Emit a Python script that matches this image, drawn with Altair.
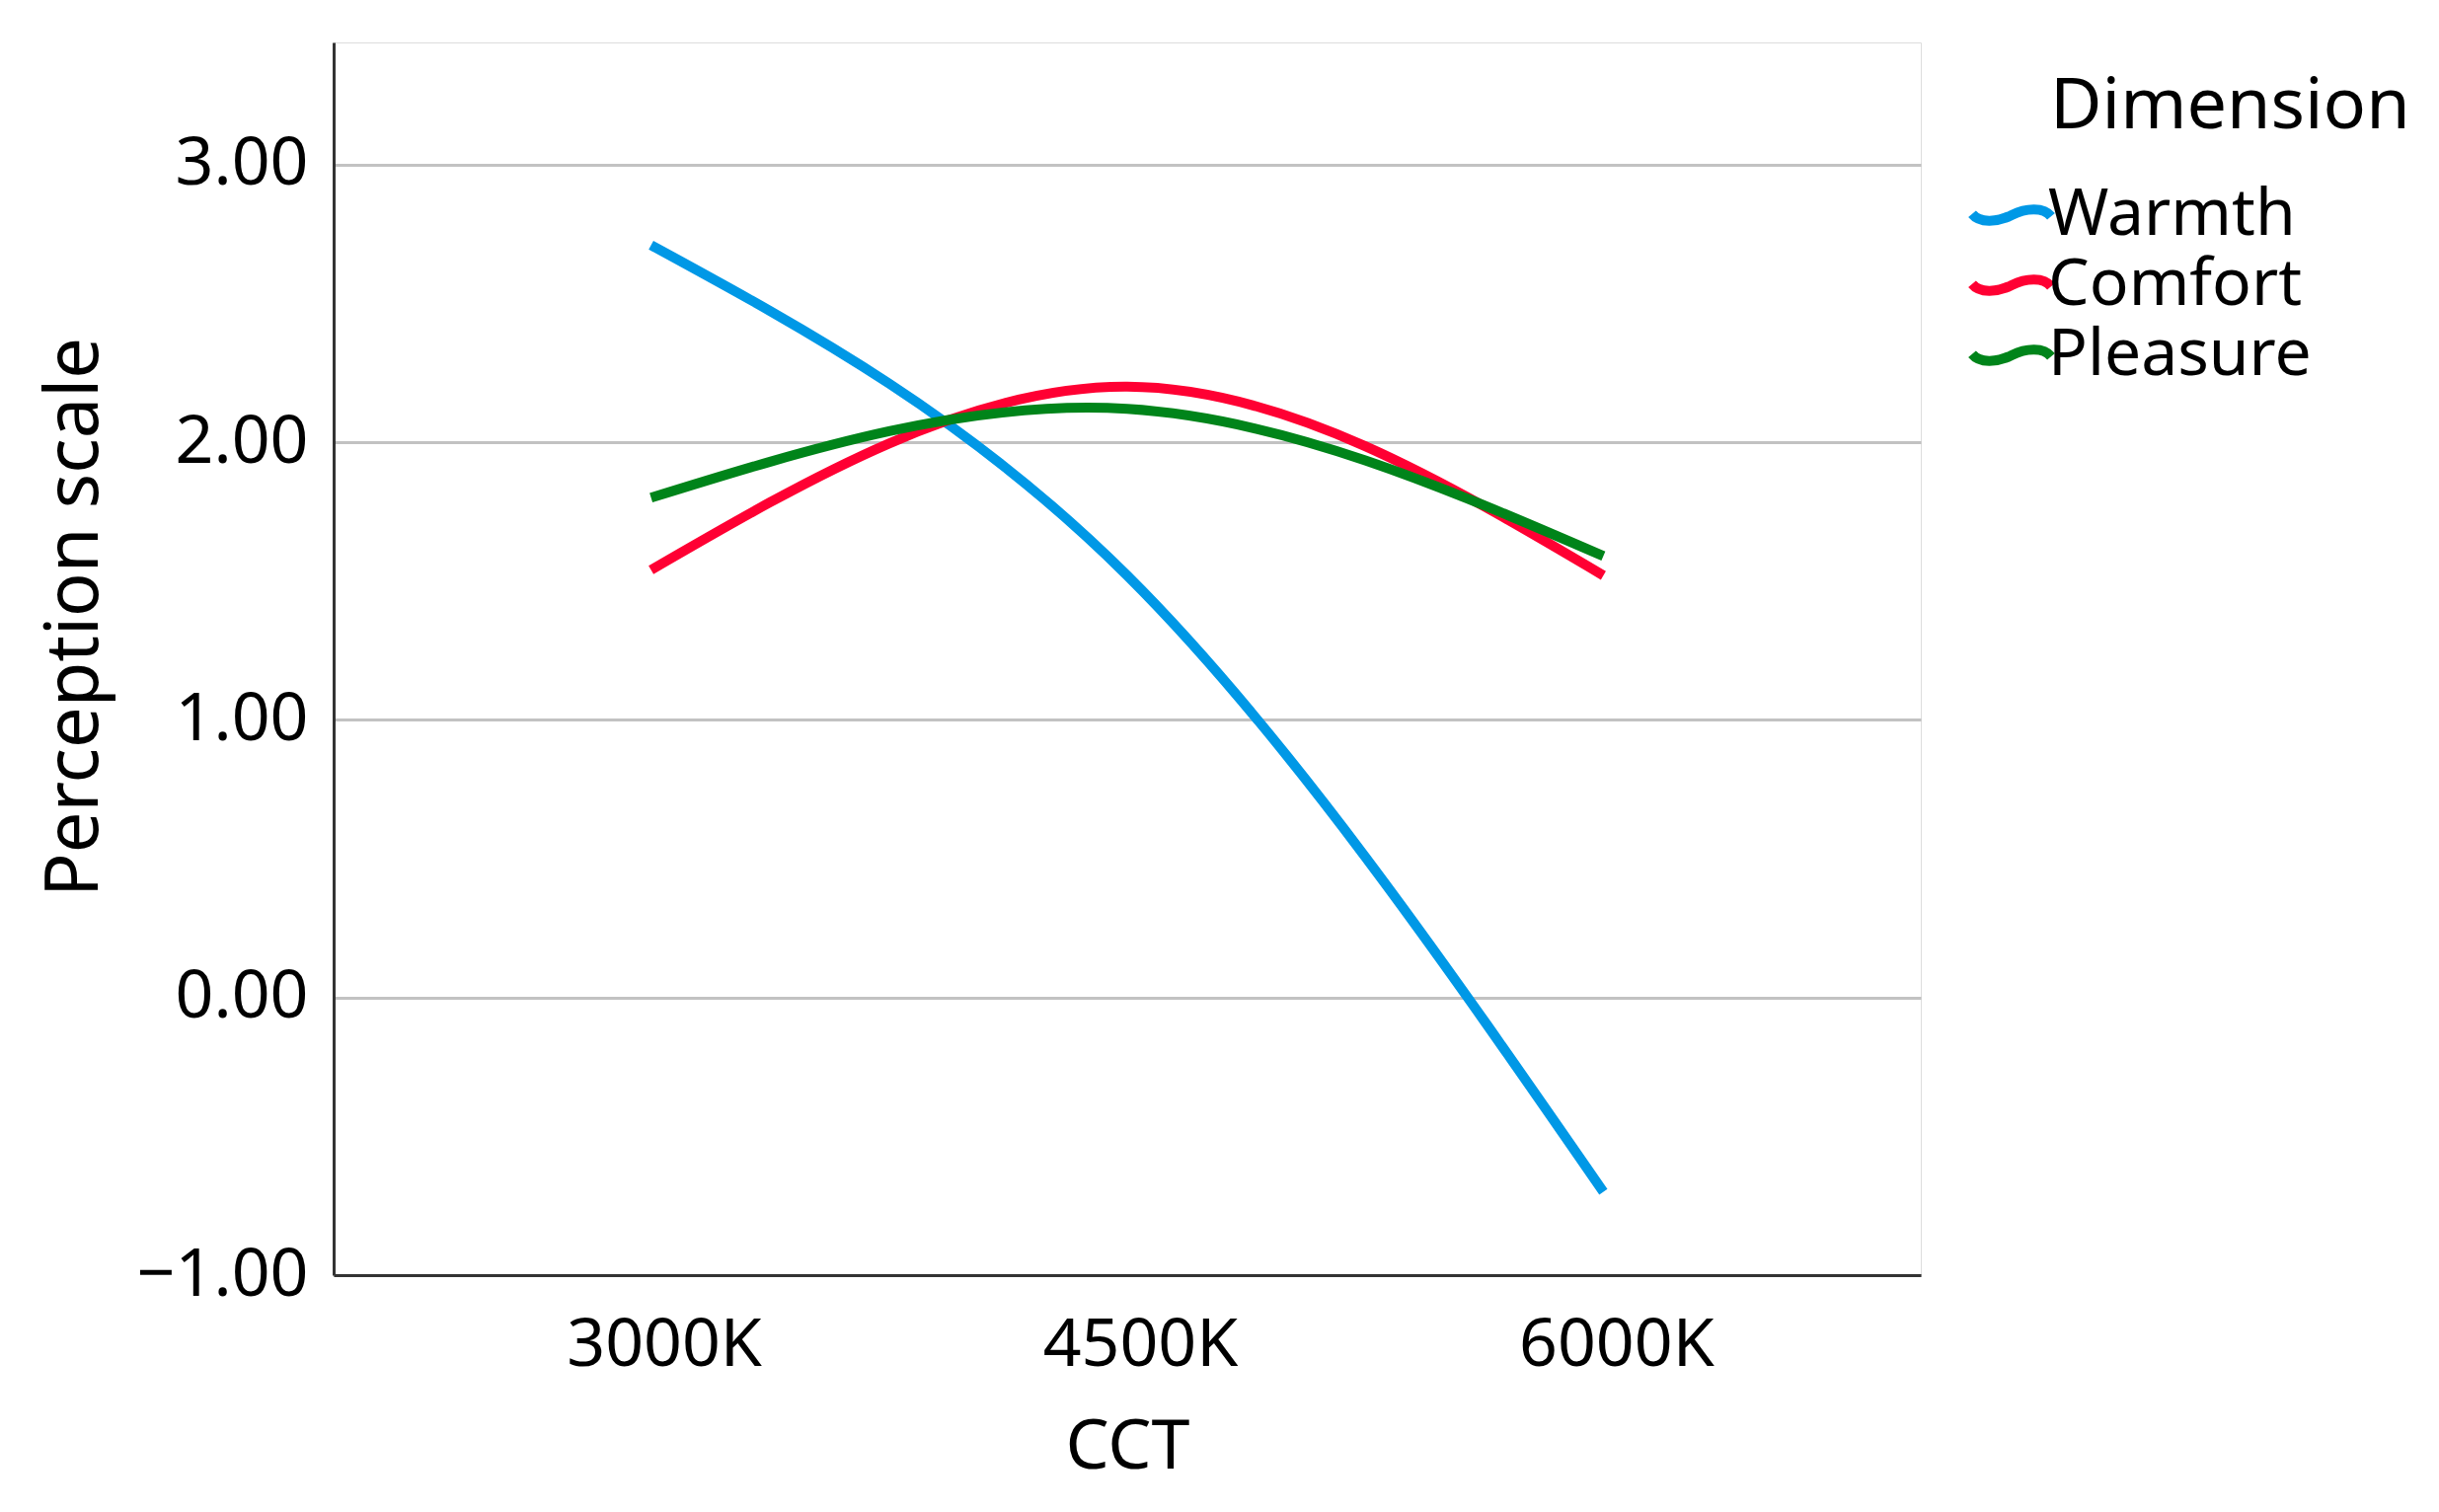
import altair as alt
import pandas as pd

# Data
cct = [3000, 4500, 6000]
warmth = [2.71, 1.52, -0.70]
comfort = [1.54, 2.20, 1.52]
pleasure = [1.80, 2.12, 1.59]
dimensions = ["Warmth", "Comfort", "Pleasure"]
colors = ["#0098E6", "#FF0033", "#00841A"]

rows = []
for name, vals in zip(dimensions, [warmth, comfort, pleasure]):
    for c, v in zip(cct, vals):
        rows.append({"CCT": c, "value": v, "Dimension": name})
df = pd.DataFrame(rows)

FONT = "Noto Sans"
wave = "M-1.6,-0.05 C-1.3,0.32 -0.6,0.3 0,0 C0.6,-0.3 1.3,-0.32 1.6,0.05"

chart = alt.Chart(df).mark_line(
    interpolate="natural", strokeWidth=10, strokeCap="butt"
).encode(
    x=alt.X(
        "CCT:Q",
        scale=alt.Scale(domain=[2000, 7000], nice=False, zero=False),
        axis=alt.Axis(
            title="CCT",
            values=cct,
            labelExpr="datum.value + 'K'",
            grid=False,
            ticks=False,
            tickSize=0,
            tickOffset=13,
            labelFont=FONT,
            labelFontSize=68,
            labelColor="#000000",
            labelBaseline="alphabetic",
            labelPadding=91,
            labelLimit=0,
            labelFlush=False,
            labelOverlap=False,
            domainColor="#333333",
            domainWidth=3,
            titleFont=FONT,
            titleFontSize=70,
            titleFontWeight="normal",
            titleColor="#000000",
            titleBaseline="alphabetic",
            titleLimit=0,
            titleX=804,
            titleY=195,
        ),
    ),
    y=alt.Y(
        "value:Q",
        scale=alt.Scale(domain=[-1, 3.44], nice=False, zero=False),
        axis=alt.Axis(
            title="Perception scale",
            values=[-1, 0, 1, 2, 3],
            format=".2f",
            grid=True,
            gridColor="#C2C2C2",
            gridWidth=3,
            ticks=False,
            tickSize=0,
            labelFont=FONT,
            labelFontSize=68,
            labelColor="#000000",
            labelPadding=26,
            labelLimit=0,
            labelOverlap=False,
            labelFlush=False,
            domainColor="#333333",
            domainWidth=3,
            titleFont=FONT,
            titleFontSize=74,
            titleFontWeight="normal",
            titleColor="#000000",
            titleAngle=270,
            titleAlign="center",
            titleBaseline="alphabetic",
            titleLimit=0,
            titleX=-240,
            titleY=582,
        ),
    ),
    color=alt.Color(
        "Dimension:N",
        sort=dimensions,
        scale=alt.Scale(domain=dimensions, range=colors),
        legend=alt.Legend(
            title="Dimension",
            orient="none",
            legendX=1739,
            legendY=30,
            padding=0,
            titleFont=FONT,
            titleFontSize=72,
            titleFontWeight="normal",
            titleColor="#000000",
            titlePadding=40,
            titleLimit=0,
            labelFont=FONT,
            labelFontSize=66,
            labelColor="#000000",
            labelLimit=0,
            labelOffset=4,
            symbolType=wave,
            symbolSize=2500,
            symbolStrokeWidth=10,
            symbolFillColor="transparent",
            symbolOffset={"expr": "-72"},
            rowPadding=5,
        ),
    ),
).properties(
    width=1608,
    height=1249,
    autosize=alt.AutoSizeParams(type="none"),
    padding={"left": 330, "top": 35, "right": 517, "bottom": 232},
).configure_view(
    stroke=None
).configure(
    background="white"
)

chart.save("out.html", embed_options={"renderer": "svg", "actions": False})
